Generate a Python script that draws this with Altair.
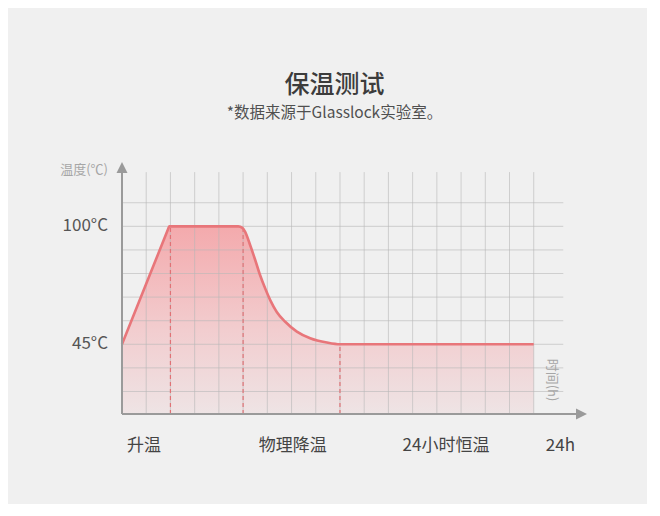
import pandas as pd
import altair as alt

FONT = "Noto Sans CJK SC"

# curve: x in grid columns (17 columns = 24 h), y in °C
curve_x = [0, 1.0, 1.9, 1.95, 4.80, 4.97, 5.08, 5.29, 5.50, 5.70, 5.91, 6.12, 6.39, 6.74, 7.22, 7.77, 8.46, 9.0, 17]
curve_y = [45, 73.2, 98.6, 100, 100, 99.3, 97.5, 91.3, 84.3, 77.3, 71.1, 65.6, 60.1, 55.5, 50.9, 47.8, 45.8, 45, 45]

# dashed phase markers
phase_x = [2, 5, 9]
phase_top = [100, 98.5, 45]

# grid
grid_x = list(range(1, 18))
grid_y = [23, 34, 45, 56, 67, 78, 89, 100, 111]

# labels
y_label_vals = [45, 100]
y_labels = ["45°C", "100°C"]
x_label_pos = [0.91, 7.05, 13.38, 18.1]
x_labels = ["升温", "物理降温", "24小时恒温", "24h"]

x_min, x_max = 0, 19.2
y_min, y_max = 12.5, 130

xs = alt.Scale(domain=[x_min, x_max], nice=False, zero=False)
ys = alt.Scale(domain=[y_min, y_max], nice=False, zero=False)

curve = pd.DataFrame({"x": curve_x, "y": curve_y, "base": y_min})

# Filled area under the curve, pink fading downwards.
area = alt.Chart(curve).mark_area(
    interpolate="monotone",
    opacity=0.95,
    color=alt.Gradient(
        gradient="linear",
        stops=[
            alt.GradientStop(color="#f4a6a9", offset=0),
            alt.GradientStop(color="#f2cbcd", offset=0.55),
            alt.GradientStop(color="#eee3e4", offset=1),
        ],
        x1=1, x2=1, y1=0, y2=1,
    ),
).encode(
    x=alt.X("x:Q", scale=xs, axis=None),
    y=alt.Y("y:Q", scale=ys, axis=None),
    y2="base:Q",
)

vgrid = alt.Chart(pd.DataFrame({"x": grid_x, "y": y_min, "y2": 125.3})).mark_rule(
    color="#b8b8b8", opacity=0.6, strokeWidth=1
).encode(
    x=alt.X("x:Q", scale=xs, axis=None),
    y=alt.Y("y:Q", scale=ys, axis=None),
    y2="y2:Q",
)

hgrid = alt.Chart(pd.DataFrame({"y": grid_y, "x": x_min, "x2": 18.22})).mark_rule(
    color="#b8b8b8", opacity=0.6, strokeWidth=1
).encode(
    x=alt.X("x:Q", scale=xs, axis=None),
    x2="x2:Q",
    y=alt.Y("y:Q", scale=ys, axis=None),
)

dashes = alt.Chart(pd.DataFrame({"x": phase_x, "y": y_min, "y2": phase_top})).mark_rule(
    color="#e07276", strokeWidth=1.2, strokeDash=[4, 3]
).encode(
    x=alt.X("x:Q", scale=xs, axis=None),
    y=alt.Y("y:Q", scale=ys, axis=None),
    y2="y2:Q",
)

line = alt.Chart(curve).mark_line(
    color="#e8767a", strokeWidth=2.6, interpolate="monotone", strokeJoin="round"
).encode(
    x=alt.X("x:Q", scale=xs, axis=None),
    y=alt.Y("y:Q", scale=ys, axis=None),
)

# Axes with arrow heads.
axis_y = alt.Chart(pd.DataFrame({"x": [0], "y": [y_min], "y2": [124.9]})).mark_rule(
    color="#9a9a9a", strokeWidth=2
).encode(
    x=alt.X("x:Q", scale=xs, axis=None),
    y=alt.Y("y:Q", scale=ys, axis=None),
    y2="y2:Q",
)
axis_x = alt.Chart(pd.DataFrame({"y": [y_min], "x": [x_min], "x2": [18.75]})).mark_rule(
    color="#9a9a9a", strokeWidth=2
).encode(
    x=alt.X("x:Q", scale=xs, axis=None),
    x2="x2:Q",
    y=alt.Y("y:Q", scale=ys, axis=None),
)
arrow_up = alt.Chart(pd.DataFrame({"x": [0], "y": [y_max]})).mark_point(
    shape="M-1,1L0,-1L1,1Z", filled=True, size=121, color="#9a9a9a", opacity=1, yOffset=5.5
).encode(
    x=alt.X("x:Q", scale=xs, axis=None),
    y=alt.Y("y:Q", scale=ys, axis=None),
)
arrow_right = alt.Chart(pd.DataFrame({"x": [x_max], "y": [y_min]})).mark_point(
    shape="M-1,-1L1,0L-1,1Z", filled=True, size=121, color="#9a9a9a", opacity=1, xOffset=-5.5
).encode(
    x=alt.X("x:Q", scale=xs, axis=None),
    y=alt.Y("y:Q", scale=ys, axis=None),
)

ylab = alt.Chart(pd.DataFrame({"v": y_label_vals, "t": y_labels})).mark_text(
    align="right", baseline="middle", font=FONT, fontSize=17, color="#555555"
).encode(
    x=alt.value(-14),
    y=alt.Y("v:Q", scale=ys, axis=None),
    text="t:N",
)

xlab = alt.Chart(pd.DataFrame({"p": x_label_pos, "t": x_labels})).mark_text(
    align="center", baseline="middle", font=FONT, fontSize=17, color="#444444"
).encode(
    x=alt.X("p:Q", scale=xs, axis=None),
    y=alt.value(284),
    text="t:N",
)

ytitle = alt.Chart(pd.DataFrame({"t": ["温度(℃)"]})).mark_text(
    align="right", baseline="middle", font=FONT, fontSize=13, color="#a6a6a6"
).encode(x=alt.value(-14), y=alt.value(8), text="t:N")

xtitle = alt.Chart(pd.DataFrame({"t": ["时间(h)"]})).mark_text(
    align="center", baseline="middle", angle=90, font=FONT, fontSize=13, color="#a6a6a6"
).encode(x=alt.value(430), y=alt.value(218), text="t:N")

chart = alt.layer(
    area, vgrid, hgrid, dashes, line, axis_y, axis_x, arrow_up, arrow_right,
    ylab, xlab, ytitle, xtitle,
).properties(
    width=465,
    height=252,
    autosize=alt.AutoSizeParams(type="none"),
    padding={"left": 114, "top": 154, "right": 60, "bottom": 90},
    background="#f0f0f0",
    title=alt.TitleParams(
        "保温测试",
        subtitle="*数据来源于Glasslock实验室。",
        anchor="middle",
        frame="group",
        dx=-20,
        offset=41,
        font=FONT,
        fontSize=25,
        fontWeight=500,
        color="#3c3c3c",
        subtitleFont=FONT,
        subtitleFontSize=15.5,
        subtitleColor="#505050",
        subtitlePadding=8,
    ),
).configure_view(stroke=None)

chart.save("out.html", embed_options={"renderer": "svg", "actions": False})
